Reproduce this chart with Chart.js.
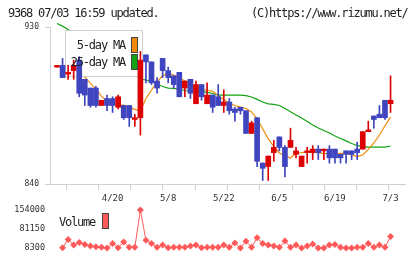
<!DOCTYPE html>
<html>
<head>
<meta charset="utf-8">
<script src="https://cdn.jsdelivr.net/npm/chart.js@4.4.0/dist/chart.umd.min.js"></script>
<style>
  body { margin: 0; background: #fff; }
  .wrap { position: relative; width: 420px; height: 259px; overflow: hidden; font-family: "DejaVu Sans Mono", monospace; color: #222; }
  .txt { position: absolute; font-size: 12px; line-height: 12px; letter-spacing: -1.2px; white-space: nowrap; }
  .sw { position: absolute; width: 5px; height: 14px; border: 1px solid #444; }
  canvas { position: absolute; left: 0; }
</style>
</head>
<body>
<div class="wrap">
  <canvas id="price" width="420" height="205" style="top:0"></canvas>
  <canvas id="volume" width="420" height="59" style="top:200px"></canvas>
  <div class="txt" style="left:8px;top:7px">9368 07/03 16:59 updated.</div>
  <div class="txt" style="left:251px;top:7px">(C)https://www.rizumu.net/</div>
  <div class="txt" style="right:295px;top:39px">5-day MA</div>
  <div class="sw" style="left:131px;top:37px;background:#f08a0a"></div>
  <div class="txt" style="right:295px;top:56px">25-day MA</div>
  <div class="sw" style="left:131px;top:54px;background:#12a212"></div>
  <div class="txt" style="left:59px;top:216px">Volume</div>
  <div class="sw" style="left:102px;top:213px;background:#ff5a5a"></div>
</div>
<script>
const days = ["4/6","4/7","4/8","4/9","4/10","4/13","4/14","4/15","4/16","4/17",
  "4/20","4/21","4/22","4/23","4/24","4/27","4/28","4/30","5/1","5/7",
  "5/8","5/11","5/12","5/13","5/14","5/15","5/18","5/19","5/20","5/21",
  "5/22","5/25","5/26","5/27","5/28","5/29","6/1","6/2","6/3","6/4",
  "6/5","6/8","6/9","6/10","6/11","6/12","6/15","6/16","6/17","6/18",
  "6/19","6/22","6/23","6/24","6/25","6/26","6/29","6/30","7/1","7/2",
  "7/3"];
const labelDays = [10, 20, 30, 40, 50, 60];

const opens = [907,908,903,905,911,900,895,895,885,889,
  889,884,885,885,877,878,914,910,899,912,
  905,902,904,895,900,886,897,886,891,890,
  885,887,883,884,882,869,878,852,850,858,
  867,861,861,857,850,858,858,860,859,860,
  860,857,859,859,860,860,870,879,880,888,
  886];
const highs = [908,912,908,911,913,900,895,896,888,891,
  890,891,885,885,880,916,914,910,901,912,
  907,902,904,899,900,899,897,898,891,897,
  894,889,884,884,882,876,878,852,856,865,
  867,862,872,861,856,861,862,862,860,862,
  860,857,859,859,864,870,876,879,885,888,
  902];
const lows = [907,901,900,900,890,885,884,884,885,882,
  881,883,877,873,873,868,898,897,892,901,
  898,895,890,890,889,886,888,886,881,885,
  881,880,876,880,869,869,850,842,842,853,
  859,844,861,855,850,852,854,854,854,852,
  852,852,852,854,854,860,870,872,878,877,
  881];
const closes = [908,901,904,908,892,891,885,885,888,885,
  885,890,878,878,878,911,910,898,895,905,
  901,897,890,899,892,897,890,891,884,885,
  887,882,881,882,869,875,853,849,856,861,
  861,850,865,859,856,859,860,858,860,855,
  855,855,857,857,858,870,871,877,878,878,
  888];
const ma5 = [null,null,null,null,903,901.3,897.7,894.5,890.2,887.6,
  885.9,885.3,885.3,884.1,882.8,881.8,889,893.9,898.5,902,
  903.5,902.5,900.8,899,897.3,895.9,894.5,893.6,893.1,890.7,
  888.4,886.4,885,884.1,883.3,881.3,877.4,871.7,865.9,861.5,
  857.8,856.1,854.9,857.8,858,858.4,858.4,857.8,857.6,857.2,
  857.2,857.5,857.6,856.6,855.7,856.6,859.8,863.5,868.1,873.4,
  878.3];
const ma25 = [932,930.5,928.5,926.5,924.5,922.5,920.5,918,915.5,913,
  911,909,907,905,903,900.1,899.6,898.8,897.3,895.9,
  895,894.8,894.2,893.6,893.3,893,892.9,892.5,891.9,891,
  891,891,891,891,890.7,889.9,888.5,887,885.9,885.6,
  885,883.3,881.4,879.6,877.8,875.8,873.8,872.1,870.7,869.2,
  867.5,866.1,864.7,863.2,862.1,861.4,861.1,861.1,861.1,861.1,
  861.8];
const volumes = [null,8800,40800,19500,29600,22100,15800,13200,10800,8300,
  25900,9500,31800,10800,10800,154000,38200,25900,10800,19500,
  9500,10800,10800,10800,15800,19500,9500,10800,10800,10800,
  19500,10800,27800,8300,34000,10800,47600,25900,19500,15800,
  10800,35300,10800,19500,8300,15800,23300,8300,8300,19500,
  22100,10800,8300,8300,10800,10800,25900,10800,19500,10800,
  52600];
const priceTicks = [840, 930];
const volumeTicks = [8300, 81150, 154000];

const FONT = "'DejaVu Sans Mono', monospace";
const AXIS = '#cfcfcf';
const UP = '#dc0000';
const DOWN = '#3f44bf';
const X_MIN = -1.26, X_MAX = 62.6;

Chart.defaults.font.family = FONT;

function candleColor(c) {
  const i = c.dataIndex;
  return closes[i] >= opens[i] ? UP : DOWN;
}

// white box of the MA legend sits over the lines but under the candles
const legendBox = {
  id: 'legendBox',
  beforeDatasetDraw(chart, args) {
    if (args.index !== 2) return;
    const c = chart.ctx;
    c.save();
    c.fillStyle = '#fff';
    c.fillRect(65.5, 30.5, 77, 46);
    c.strokeStyle = AXIS;
    c.lineWidth = 1;
    c.strokeRect(65.5, 30.5, 77, 46);
    c.restore();
  }
};

new Chart(document.getElementById('price'), {
  type: 'bar',
  data: {
    datasets: [
      {
        type: 'line', order: 4, data: ma25.map((v, i) => ({ x: i, y: v })),
        borderColor: '#12a212', borderWidth: 1.2, pointRadius: 0, tension: 0, clip: false
      },
      {
        type: 'line', order: 3, data: ma5.map((v, i) => ({ x: i, y: v })),
        borderColor: '#f08a0a', borderWidth: 1.2, pointRadius: 0, tension: 0
      },
      {
        order: 2, data: days.map((d, i) => ({ x: i, y: [lows[i], highs[i]] })),
        backgroundColor: candleColor, barThickness: 1, grouped: false, borderWidth: 0
      },
      {
        order: 1, data: days.map((d, i) => ({ x: i, y: [opens[i], closes[i]] })),
        backgroundColor: candleColor, barThickness: 5, grouped: false, borderWidth: 0, minBarLength: 1
      }
    ]
  },
  options: {
    responsive: false,
    animation: false,
    events: [],
    layout: { padding: { left: 0, right: 15, top: 27, bottom: 0 } },
    plugins: { legend: { display: false }, tooltip: { enabled: false } },
    scales: {
      x: {
        type: 'linear', min: X_MIN, max: X_MAX, offset: false,
        afterBuildTicks: s => {
          const t = [];
          for (let k = 0; k <= 11; k++) t.push({ value: X_MIN + k * (X_MAX - X_MIN) / 11 });
          labelDays.forEach(d => t.push({ value: d, day: true }));
          s.ticks = t;
        },
        afterFit: s => { s.height = 21; },
        grid: {
          drawOnChartArea: false, tickLength: 6,
          color: c => (c.tick && c.tick.day) ? 'rgba(0,0,0,0)' : AXIS
        },
        border: { color: AXIS },
        ticks: {
          autoSkip: false, maxRotation: 0, padding: 3, color: '#333',
          font: { size: 9 },
          callback: (v, i, t) => t[i].day ? days[v] : ''
        }
      },
      y: {
        min: 840, max: 930,
        afterBuildTicks: s => { s.ticks = priceTicks.map(v => ({ value: v })); },
        afterFit: s => { s.width = 50; },
        grid: { drawOnChartArea: false, tickLength: 5, color: AXIS },
        border: { color: AXIS },
        ticks: { padding: 6, color: '#333', font: { size: 8 }, callback: v => String(v) }
      }
    }
  },
  plugins: [legendBox]
});

new Chart(document.getElementById('volume'), {
  type: 'line',
  data: {
    datasets: [{
      data: volumes.map((v, i) => ({ x: i, y: v })),
      borderColor: '#ff5a5a', backgroundColor: '#ff5a5a', borderWidth: 1,
      pointStyle: 'rectRot', pointRadius: 3.5, pointBorderWidth: 0,
      pointBackgroundColor: '#ff5a5a', tension: 0, clip: false
    }]
  },
  options: {
    responsive: false,
    animation: false,
    events: [],
    layout: { padding: { left: 0, right: 15, top: 9, bottom: 11 } },
    plugins: { legend: { display: false }, tooltip: { enabled: false } },
    scales: {
      x: { type: 'linear', min: X_MIN, max: X_MAX, display: false },
      y: {
        min: 8300, max: 154000,
        afterBuildTicks: s => { s.ticks = volumeTicks.map(v => ({ value: v })); },
        afterFit: s => { s.width = 50; },
        grid: { display: false, drawTicks: false },
        border: { display: false },
        ticks: { padding: 5, color: '#333', font: { size: 8.5 }, callback: v => String(v) }
      }
    }
  }
});
</script>
</body>
</html>
